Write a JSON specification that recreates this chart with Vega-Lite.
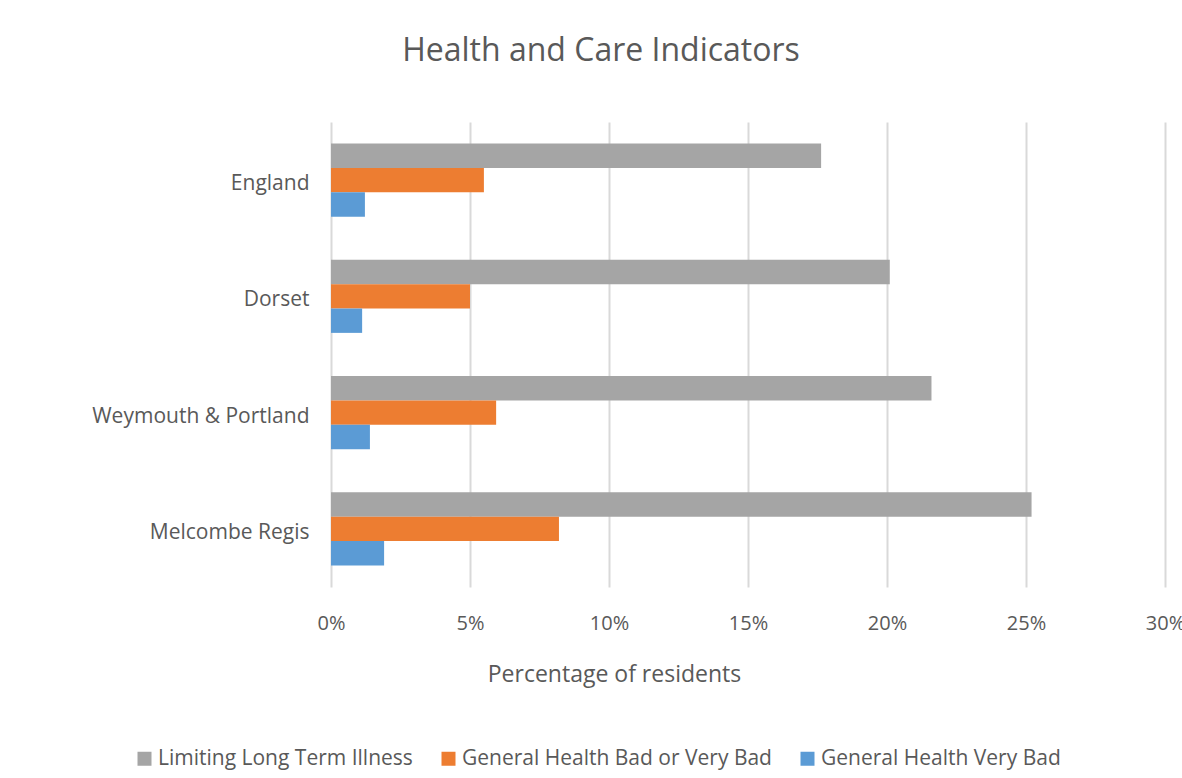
{
  "$schema": "https://vega.github.io/schema/vega-lite/v6.json",
  "width": 834,
  "height": 465,
  "autosize": {"type": "none"},
  "padding": {"left": 331, "top": 122, "right": 17, "bottom": 191},
  "background": "white",
  "title": {
    "text": "Health and Care Indicators",
    "anchor": "middle",
    "frame": "group",
    "dx": -147,
    "offset": 54,
    "fontSize": 32,
    "font": "Open Sans",
    "fontWeight": "normal",
    "color": "#595959"
  },
  "data": {
    "values": [
      {"area": "England", "series": "Limiting Long Term Illness", "value": 0.1763},
      {"area": "England", "series": "General Health Bad or Very Bad", "value": 0.055},
      {"area": "England", "series": "General Health Very Bad", "value": 0.0122},
      {"area": "Dorset", "series": "Limiting Long Term Illness", "value": 0.201},
      {"area": "Dorset", "series": "General Health Bad or Very Bad", "value": 0.050},
      {"area": "Dorset", "series": "General Health Very Bad", "value": 0.0112},
      {"area": "Weymouth & Portland", "series": "Limiting Long Term Illness", "value": 0.216},
      {"area": "Weymouth & Portland", "series": "General Health Bad or Very Bad", "value": 0.0594},
      {"area": "Weymouth & Portland", "series": "General Health Very Bad", "value": 0.014},
      {"area": "Melcombe Regis", "series": "Limiting Long Term Illness", "value": 0.252},
      {"area": "Melcombe Regis", "series": "General Health Bad or Very Bad", "value": 0.082},
      {"area": "Melcombe Regis", "series": "General Health Very Bad", "value": 0.0191}
    ]
  },
  "mark": {"type": "bar"},
  "encoding": {
    "y": {
      "field": "area",
      "type": "nominal",
      "sort": ["England", "Dorset", "Weymouth & Portland", "Melcombe Regis"],
      "scale": {"paddingInner": 0.372, "paddingOuter": 0.186},
      "axis": {
        "title": null,
        "domain": false,
        "ticks": false,
        "labelPadding": 22,
        "labelOffset": 4,
        "labelFontSize": 21,
        "labelFont": "Open Sans",
        "labelColor": "#595959",
        "labelLimit": 400
      }
    },
    "yOffset": {
      "field": "series",
      "type": "nominal",
      "sort": ["Limiting Long Term Illness", "General Health Bad or Very Bad", "General Health Very Bad"],
      "scale": {"paddingInner": 0, "paddingOuter": 0}
    },
    "x": {
      "field": "value",
      "type": "quantitative",
      "scale": {"domain": [0, 0.3], "nice": false},
      "axis": {
        "title": "Percentage of residents",
        "titleFont": "Open Sans",
        "titleFontSize": 23,
        "titleFontWeight": "normal",
        "titleColor": "#595959",
        "titlePadding": 30,
        "titleX": 283,
        "titleAnchor": "middle",
        "values": [0, 0.05, 0.1, 0.15, 0.2, 0.25, 0.3],
        "format": ".0%",
        "domain": false,
        "ticks": false,
        "grid": true,
        "gridColor": "#d9d9d9",
        "gridWidth": 2,
        "labelPadding": 26,
        "labelFontSize": 20,
        "labelFont": "Open Sans",
        "labelColor": "#595959",
        "labelFlush": false
      }
    },
    "color": {
      "field": "series",
      "type": "nominal",
      "sort": ["Limiting Long Term Illness", "General Health Bad or Very Bad", "General Health Very Bad"],
      "scale": {
        "domain": ["Limiting Long Term Illness", "General Health Bad or Very Bad", "General Health Very Bad"],
        "range": ["#a5a5a5", "#ed7d31", "#5b9bd5"]
      },
      "legend": {
        "title": null,
        "orient": "none",
        "direction": "horizontal",
        "legendX": -197,
        "legendY": 626,
        "symbolType": "square",
        "symbolSize": 196,
        "symbolStrokeWidth": 0,
        "labelFontSize": 21,
        "labelFont": "Open Sans",
        "labelColor": "#595959",
        "labelOffset": 3,
        "columnPadding": 25,
        "labelLimit": 400
      }
    }
  },
  "config": {
    "view": {"stroke": null}
  }
}
